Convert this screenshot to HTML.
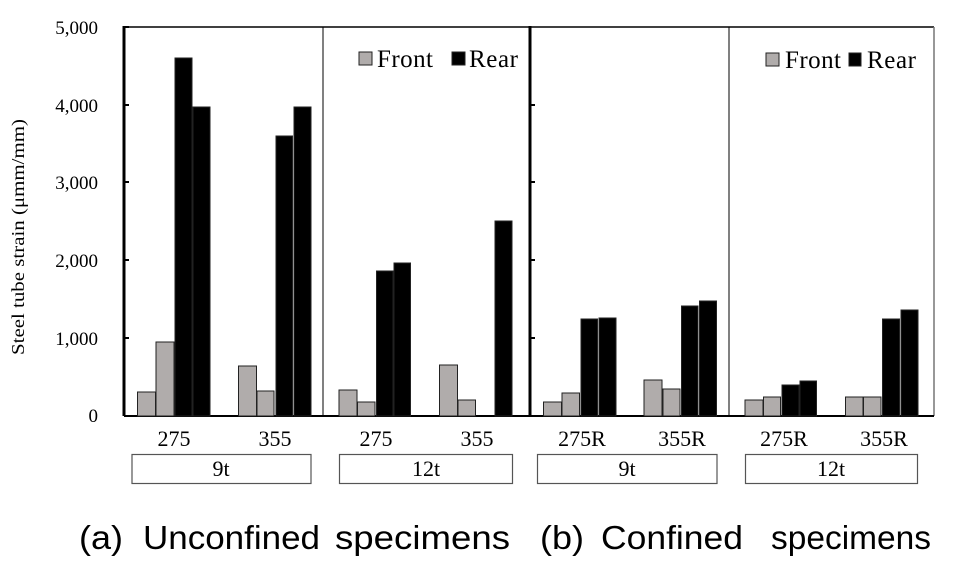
<!DOCTYPE html>
<html><head><style>body{margin:0;background:#fff}svg{display:block}</style></head><body>
<svg width="957" height="572" xmlns="http://www.w3.org/2000/svg" font-family="Liberation Serif, serif">
<g fill="none" stroke="#000">
<path d="M124 27H934" stroke-width="1.5"/>
<path d="M124 26V416M530 26V416" stroke-width="3"/>
<path d="M323 27V416M729 27V416"/>
<path d="M934 27V416" stroke="#777" stroke-width="1.5"/>
<path d="M124 416H934" stroke-width="2"/>
<path d="M124 27h5M124 105h5M124 182h5M124 260h5M124 338h5M530 105h5M530 182h5M530 260h5M530 338h5" stroke-width="2"/>
</g>
<g font-size="19" text-anchor="end">
<text x="98" y="34">5,000</text><text x="98" y="112">4,000</text><text x="98" y="189">3,000</text><text x="98" y="267">2,000</text><text x="98" y="345">1,000</text><text x="98" y="422">0</text>
</g>
<text transform="translate(24,237) rotate(-90)" font-size="18" text-anchor="middle" textLength="236" lengthAdjust="spacingAndGlyphs">Steel tube strain (μmm/mm)</text>
<g stroke="#222" stroke-width="1">
<g fill="#b0acab">
<rect x="137.5" y="392" width="18" height="24"/><rect x="156" y="342" width="18" height="74"/>
<rect x="238.5" y="366" width="18" height="50"/><rect x="257" y="391" width="17" height="25"/>
<rect x="339" y="390" width="18" height="26"/><rect x="357.5" y="402" width="17.5" height="14"/>
<rect x="439.5" y="365" width="18" height="51"/><rect x="458" y="400" width="17.5" height="16"/>
<rect x="543.5" y="402" width="18" height="14"/><rect x="562" y="393" width="17.5" height="23"/>
<rect x="644" y="380" width="18" height="36"/><rect x="663" y="389" width="17" height="27"/>
<rect x="745" y="400" width="18" height="16"/><rect x="763.5" y="397" width="17" height="19"/>
<rect x="845.5" y="397" width="17.5" height="19"/><rect x="863.5" y="397" width="17.5" height="19"/>
<rect x="359" y="52" width="13" height="13"/><rect x="766" y="53" width="13" height="13"/>
</g>
<g fill="#000">
<rect x="175" y="58" width="17" height="358"/><rect x="193" y="107" width="17" height="309"/>
<rect x="276" y="136" width="16.5" height="280"/><rect x="294" y="107" width="17" height="309"/>
<rect x="376.5" y="271" width="16.5" height="145"/><rect x="394" y="263" width="16.5" height="153"/>
<rect x="495" y="221" width="17" height="195"/>
<rect x="581" y="319" width="16.5" height="97"/><rect x="599" y="318" width="17" height="98"/>
<rect x="681.5" y="306" width="16.5" height="110"/><rect x="699.5" y="301" width="17" height="115"/>
<rect x="782" y="385" width="17" height="31"/><rect x="800" y="381" width="16.5" height="35"/>
<rect x="882.5" y="319" width="17" height="97"/><rect x="901" y="310" width="17" height="106"/>
<rect x="452" y="52" width="13" height="13"/><rect x="849" y="53" width="12" height="13"/>
</g>
</g>
<g font-size="25"><text x="377" y="67" textLength="56">Front</text><text x="469" y="67" textLength="49">Rear</text><text x="785" y="68" textLength="56">Front</text><text x="867" y="68" textLength="49">Rear</text></g>
<g font-size="22" text-anchor="middle">
<text x="174" y="446">275</text><text x="275" y="446">355</text><text x="376" y="446">275</text><text x="477" y="446">355</text>
<text x="582" y="446">275R</text><text x="682" y="446">355R</text><text x="784" y="446">275R</text><text x="884" y="446">355R</text>
</g>
<g fill="#fff" stroke="#555" stroke-width="1.2">
<rect x="132" y="454.5" width="179" height="29"/><rect x="339.5" y="454.5" width="173" height="29"/>
<rect x="537.5" y="454.5" width="179.5" height="29"/><rect x="745.5" y="454.5" width="172" height="29"/>
</g>
<g font-size="22" text-anchor="middle">
<text x="221" y="476">9t</text><text x="426" y="476">12t</text><text x="627" y="476">9t</text><text x="831" y="476">12t</text>
</g>
<g font-family="Liberation Sans, sans-serif" font-size="33">
<text x="79" y="549" textLength="44" lengthAdjust="spacingAndGlyphs">(a)</text>
<text x="143" y="549" textLength="177" lengthAdjust="spacingAndGlyphs">Unconfined</text>
<text x="335" y="549" textLength="175" lengthAdjust="spacingAndGlyphs">specimens</text>
<text x="540" y="549" textLength="44" lengthAdjust="spacingAndGlyphs">(b)</text>
<text x="601" y="549" textLength="142" lengthAdjust="spacingAndGlyphs">Confined</text>
<text x="771" y="549" textLength="160" lengthAdjust="spacingAndGlyphs">specimens</text>
</g>
</svg>
</body></html>
